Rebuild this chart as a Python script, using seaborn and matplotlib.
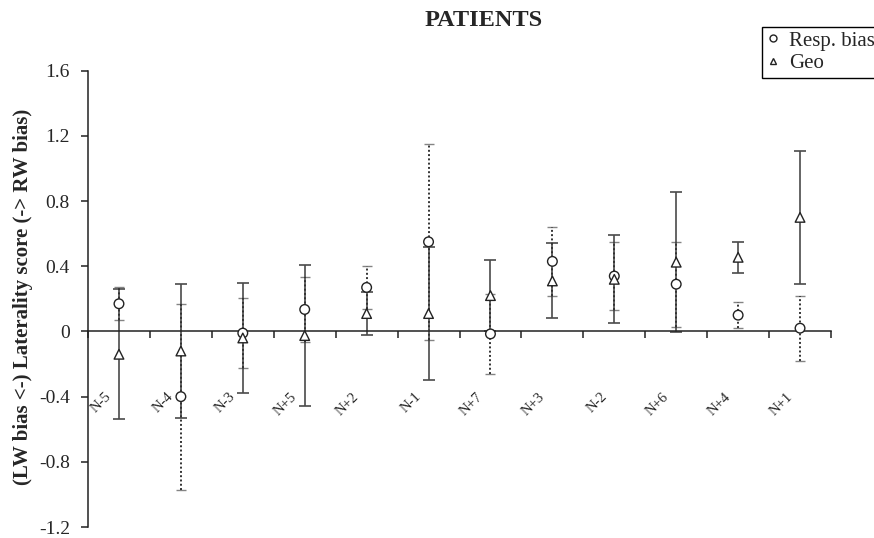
"""
Laterality scores for patients: response bias vs. geometric bias per condition.
"""
import numpy as np
import pandas as pd
import matplotlib
matplotlib.use('Agg')
import matplotlib.pyplot as plt
from matplotlib.lines import Line2D
import seaborn as sns

# valores
categories = ['N-5', 'N-4', 'N-3', 'N+5', 'N+2', 'N-1',
              'N+7', 'N+3', 'N-2', 'N+6', 'N+4', 'N+1']
resp_bias = [0.17, -0.40, -0.01, 0.135, 0.27, 0.55,
             -0.015, 0.43, 0.34, 0.29, 0.10, 0.02]
resp_err = [0.10, 0.57, 0.215, 0.20, 0.13, 0.60,
            0.245, 0.21, 0.21, 0.26, 0.08, 0.20]
geo = [-0.14, -0.12, -0.04, -0.025, 0.11, 0.11,
       0.22, 0.31, 0.32, 0.425, 0.455, 0.70]
geo_err = [0.40, 0.41, 0.34, 0.43, 0.13, 0.41,
           0.22, 0.23, 0.27, 0.43, 0.095, 0.41]
y_ticks = [-1.2, -0.8, -0.4, 0, 0.4, 0.8, 1.2, 1.6]
y_tick_labels = ['-1.2', '-0.8', '-0.4', '0', '0.4', '0.8', '1.2', '1.6']


def main():
    sns.set_style('ticks')
    plt.rcParams['font.family'] = ['Liberation Serif', 'DejaVu Serif']

    x = np.arange(len(categories))
    df = pd.DataFrame({
        'pos': np.concatenate([x, x]),
        'score': resp_bias + geo,
        'series': ['Resp. bias'] * len(x) + ['Geo'] * len(x),
    })

    fig = plt.figure(figsize=(8.74, 5.38), dpi=100)
    ax = fig.add_axes([0.1007, 0.0204, 0.8501, 0.8482])

    # barras de erro: Geo solida, Resp. bias pontilhada
    ax.errorbar(x, geo, yerr=geo_err, fmt='none', ecolor='#4a4a4a',
                elinewidth=1.2, capsize=4.5, capthick=1.2, zorder=2)
    eb = ax.errorbar(x, resp_bias, yerr=resp_err, fmt='none', ecolor='#333333',
                     elinewidth=1.4, capsize=3.5, capthick=1.0, zorder=3)
    for lc in eb[2]:
        lc.set_linestyle((0, (1, 1.2)))
    for cap in eb[1]:
        cap.set_alpha(0.6)

    sns.scatterplot(data=df, x='pos', y='score', style='series',
                    markers={'Resp. bias': 'o', 'Geo': '^'}, s=48,
                    color='white', edgecolor='#222222', linewidth=1.0,
                    legend=False, zorder=4, ax=ax)

    sns.despine(ax=ax)
    ax.spines['bottom'].set_position(('data', 0))
    for side in ['left', 'bottom']:
        ax.spines[side].set_color('#222222')
        ax.spines[side].set_linewidth(1.1)

    ax.set_xlim(-0.5, len(categories) - 0.5)
    ax.set_ylim(-1.2, 1.6)
    ax.set_xticks(np.arange(-0.5, len(categories), 1))
    ax.set_xticklabels([])
    ax.set_yticks(y_ticks)
    ax.set_yticklabels(y_tick_labels)
    ax.tick_params(axis='both', direction='out', length=5, width=1.1,
                   color='#222222', labelsize=14, pad=8)
    ax.set_xlabel('')
    ax.set_ylabel('')

    # rotulos das condicoes abaixo do eixo
    for xi, lab in zip(x, categories):
        ax.text(xi - 0.08, -0.36, lab, rotation=45, ha='right', va='top',
                fontsize=10.5)

    fig.text(484 / 874, 1 - 20 / 538, 'PATIENTS', ha='center', va='center',
             fontsize=17.5, fontweight='bold')
    fig.text(23 / 874, 1 - 297 / 538, '(LW bias <-) Laterality score (-> RW bias)',
             rotation=90, ha='center', va='center', fontsize=15, fontweight='bold')

    handles = [
        Line2D([], [], linestyle='none', marker='o', markersize=5,
               markerfacecolor='white', markeredgecolor='#222222'),
        Line2D([], [], linestyle='none', marker='^', markersize=5,
               markerfacecolor='white', markeredgecolor='#222222'),
    ]
    leg = fig.legend(handles, ['Resp. bias', 'Geo'], loc='upper left',
                     bbox_to_anchor=(762 / 874, 1 - 27 / 538), frameon=True,
                     fancybox=False, edgecolor='black', framealpha=1,
                     fontsize=15, handlelength=0.7, handletextpad=0.4,
                     borderpad=0.2, labelspacing=0.15, borderaxespad=0)
    leg.get_frame().set_linewidth(1.0)

    fig.savefig('out.png', dpi=100)


if __name__ == '__main__':
    main()
